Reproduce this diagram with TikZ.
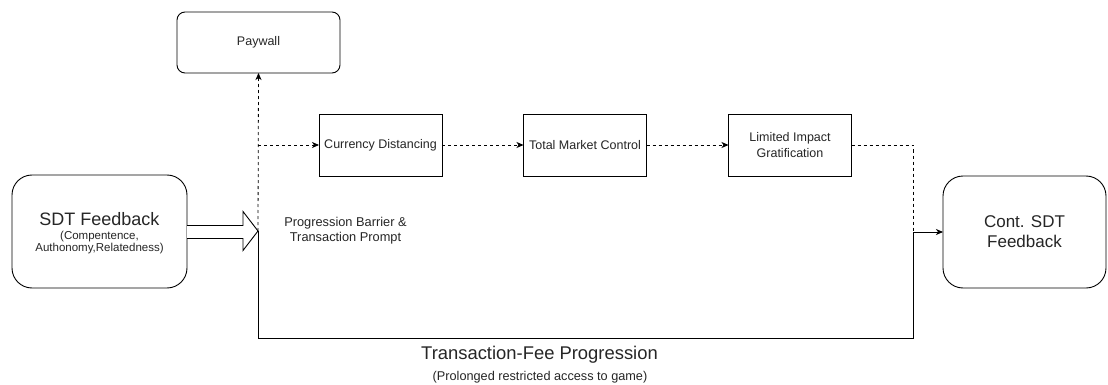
\documentclass[tikz,border=0pt]{standalone}
\usepackage{fontspec}
\setmainfont{Liberation Sans}
\usetikzlibrary{arrows.meta}
\begin{document}
\begin{tikzpicture}[x=1pt,y=-1pt,
  every node/.style={inner sep=0pt, outer sep=0pt, text=black!85},
  rbox/.style={draw, line width=0.9pt, rounded corners=#1, align=center},
  sbox/.style={draw, line width=0.9pt, minimum width=123pt, minimum height=62pt, align=center, font=\fontsize{12.5}{16}\selectfont},
  dashline/.style={line width=0.8pt, dash pattern=on 3pt off 3pt},
  solidline/.style={line width=0.9pt},
  tip/.style={-{Stealth[length=7pt,width=6pt,inset=2pt]}}
]
\useasboundingbox[fill=white] (0,0) rectangle (1108,385);

% boxes
\node[rbox=20pt, minimum width=175pt, minimum height=113pt] (sdt) at (99.5,231.5) {};
\node[align=center] (sdtt) at (99.5,233)
  {\fontsize{18}{21}\selectfont SDT Feedback\\[1.5pt]\fontsize{11.5}{16}\selectfont (Compentence,\\\fontsize{11.5}{16}\selectfont Authonomy,Relatedness)};
\node[rbox=8pt, minimum width=163pt, minimum height=61pt, font=\fontsize{12.5}{15}\selectfont] (pay) at (258.5,42.5) {Paywall};
\node[sbox] (cd) at (380.5,145) {Currency Distancing};
\node[sbox] (tmc) at (585,145) {Total Market Control};
\node[sbox] (lig) at (790,145) {Limited Impact\\Gratification};
\node[rbox=20pt, minimum width=163pt, minimum height=112pt, font=\fontsize{17}{20}\selectfont] (cont) at (1024.5,232) {Cont. SDT\\Feedback};

% labels
\node[align=center, font=\fontsize{12.8}{15}\selectfont] (pb) at (345.5,230.5) {Progression Barrier \&\\Transaction Prompt};
\node[font=\fontsize{18.4}{21}\selectfont] (tfp) at (539.5,355) {Transaction-Fee Progression};
\node[font=\fontsize{12.7}{15}\selectfont] (pra) at (540,377.5) {(Prolonged restricted access to game)};

% junction coordinates
\coordinate (j) at (258,231);
\coordinate (jtop) at (258,145);
\coordinate (jbot) at (258,338);
\coordinate (rb) at (913,338);
\coordinate (rt) at (913,145);
\coordinate (rm) at (913,232);

% block arrow
\draw[line width=0.9pt, fill=white] (sdt.east |- 0,225.5) -- (243,225.5) -- (243,211.5) -- (j) -- (243,250.5) -- (243,238.5) -- (sdt.east |- 0,238.5);

% dashed connectors
\draw[dashline, tip] (j) -- (pay.south);
\draw[dashline, tip] (jtop) -- (cd.west);
\draw[dashline, tip] (cd.east) -- (tmc.west);
\draw[dashline, tip] (tmc.east) -- (lig.west);
\draw[dashline] (lig.east) -- (rt) -- (rm);

% solid connector
\draw[solidline] (j) -- (jbot) -- (rb) -- (rm);
\draw[solidline, tip] (rm) -- (cont.west);
\end{tikzpicture}
\end{document}
